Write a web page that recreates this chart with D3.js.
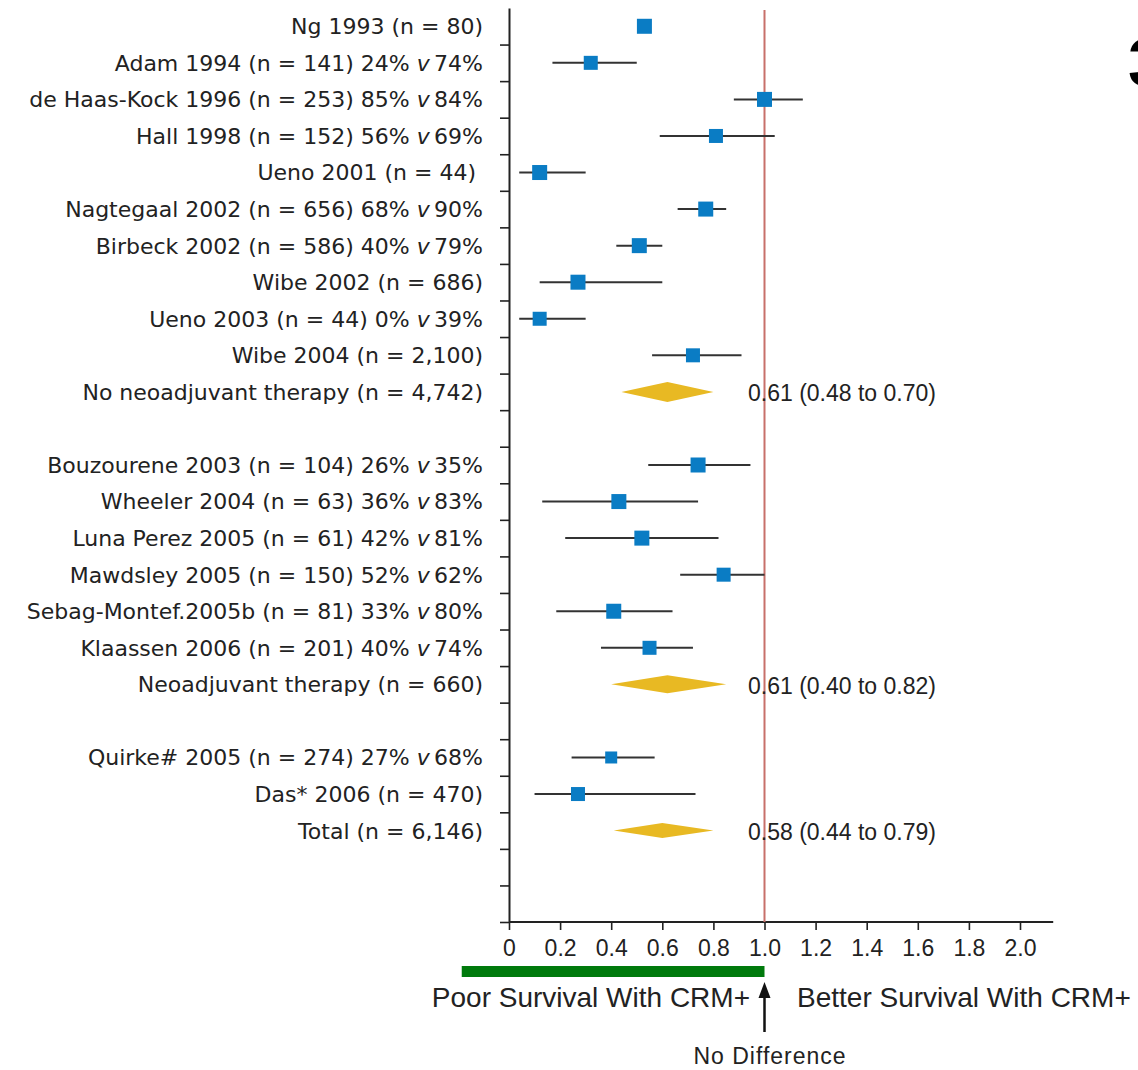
<!DOCTYPE html>
<html>
<head>
<meta charset="utf-8">
<script src="https://cdn.jsdelivr.net/npm/d3@7"></script>
<style>
  body { margin: 0; background: #fff; }
  svg { display: block; }
</style>
</head>
<body>
<div id="chart"></div>
<script>
// Row labels (blank rows keep the gaps between groups)
const rowLabels = [
  ["Ng 1993 (n = 80)", null],
  ["Adam 1994 (n = 141) 24% ", "74%"],
  ["de Haas-Kock 1996 (n = 253) 85% ", "84%"],
  ["Hall 1998 (n = 152) 56% ", "69%"],
  ["Ueno 2001 (n = 44)\u00a0", null],
  ["Nagtegaal 2002 (n = 656) 68% ", "90%"],
  ["Birbeck 2002 (n = 586) 40% ", "79%"],
  ["Wibe 2002 (n = 686)", null],
  ["Ueno 2003 (n = 44) 0% ", "39%"],
  ["Wibe 2004 (n = 2,100)", null],
  ["No neoadjuvant therapy (n = 4,742)", null],
  ["", null],
  ["Bouzourene 2003 (n = 104) 26% ", "35%"],
  ["Wheeler 2004 (n = 63) 36% ", "83%"],
  ["Luna Perez 2005 (n = 61) 42% ", "81%"],
  ["Mawdsley 2005 (n = 150) 52% ", "62%"],
  ["Sebag-Montef.2005b (n = 81) 33% ", "80%"],
  ["Klaassen 2006 (n = 201) 40% ", "74%"],
  ["Neoadjuvant therapy (n = 660)", null],
  ["", null],
  ["Quirke# 2005 (n = 274) 27% ", "68%"],
  ["Das* 2006 (n = 470)", null],
  ["Total (n = 6,146)", null],
  ["", null],
  ["", null]
];

// Individual studies: row, estimate, lower and upper CI, marker size
const studyRow  = [0, 1, 2, 3, 4, 5, 6, 7, 8, 9, 12, 13, 14, 15, 16, 17, 20, 21];
const studyEst  = [0.53, 0.32, 1.00, 0.81, 0.12, 0.77, 0.51, 0.27, 0.12, 0.72, 0.74, 0.43, 0.52, 0.84, 0.41, 0.55, 0.40, 0.27];
const studyLow  = [null, 0.17, 0.88, 0.59, 0.04, 0.66, 0.42, 0.12, 0.04, 0.56, 0.545, 0.13, 0.22, 0.67, 0.185, 0.36, 0.245, 0.10];
const studyHigh = [null, 0.50, 1.15, 1.04, 0.30, 0.85, 0.60, 0.60, 0.30, 0.91, 0.945, 0.74, 0.82, 1.00, 0.64, 0.72, 0.57, 0.73];
const studySize = [15, 14, 15, 14, 15, 15, 15, 15, 14, 14, 15, 15, 15, 14, 15, 14, 12, 14];

// Pooled estimates (diamonds)
const pooledRow  = [10, 18, 22];
const pooledEst  = [0.62, 0.62, 0.60];
const pooledLow  = [0.44, 0.40, 0.41];
const pooledHigh = [0.80, 0.85, 0.80];
const pooledText = ["0.61 (0.48 to 0.70)", "0.61 (0.40 to 0.82)", "0.58 (0.44 to 0.79)"];
const pooledH    = [20, 18, 15];

const xTicks = [0, 0.2, 0.4, 0.6, 0.8, 1.0, 1.2, 1.4, 1.6, 1.8, 2.0];
const noEffect = 1.0;
const poorRange = [-0.185, 1.0];

const width = 1138, height = 1070;
const plotTop = 8, plotBottom = 922, plotLeft = 509;

const svg = d3.select("#chart")
  .append("svg")
  .attr("width", width)
  .attr("height", height);

const x = d3.scaleLinear()
  .domain([0, 2.0])
  .range([plotLeft, 1020]);

const y = d3.scaleBand()
  .domain(d3.range(rowLabels.length))
  .range([plotTop, plotBottom]);

const yEdge = d3.scaleLinear()
  .domain([0, rowLabels.length])
  .range([plotTop, plotBottom]);

const labelFont = "'DejaVu Sans', Verdana, sans-serif";
const plainFont = "'Liberation Sans', Arial, sans-serif";

// y axis with ticks between rows
const yAxis = svg.append("g")
  .attr("transform", `translate(${plotLeft},0)`)
  .call(d3.axisLeft(yEdge)
    .tickValues(d3.range(1, rowLabels.length + 1))
    .tickSize(9)
    .tickSizeOuter(0)
    .tickFormat(""));
yAxis.select(".domain").attr("stroke", "#222").attr("stroke-width", 2);
yAxis.selectAll(".tick line").attr("stroke", "#222").attr("stroke-width", 1.6);

// x axis
const xAxis = svg.append("g")
  .attr("transform", `translate(0,${plotBottom})`)
  .call(d3.axisBottom(x)
    .tickValues(xTicks)
    .tickSize(8)
    .tickSizeOuter(0)
    .tickPadding(10)
    .tickFormat(d => d === 0 ? "0" : d3.format(".1f")(d)));
xAxis.select(".domain")
  .attr("d", `M${plotLeft},0H${x(2.13)}`)
  .attr("stroke", "#222").attr("stroke-width", 2);
xAxis.selectAll(".tick line").attr("stroke", "#222").attr("stroke-width", 1.6);
xAxis.selectAll(".tick text")
  .style("font-family", plainFont)
  .style("font-size", "23px")
  .attr("fill", "#222");

// line of no effect
svg.append("line")
  .attr("x1", x(noEffect)).attr("x2", x(noEffect))
  .attr("y1", 10).attr("y2", plotBottom)
  .attr("stroke", "#c8706a")
  .attr("stroke-width", 2);

// row labels
const labels = svg.append("g")
  .selectAll("text")
  .data(rowLabels)
  .enter()
  .append("text")
  .attr("x", 483)
  .attr("y", (d, i) => y(i) + y.bandwidth() / 2)
  .attr("dy", "0.36em")
  .attr("text-anchor", "end")
  .style("font-family", labelFont)
  .style("font-size", "22px")
  .style("white-space", "pre")
  .attr("fill", "#222");
labels.append("tspan").text(d => d[0]);
labels.filter(d => d[1] !== null).append("tspan").attr("font-style", "italic").text("v");
labels.filter(d => d[1] !== null).append("tspan").text(d => "\u2009" + d[1]);

// confidence intervals
const studies = studyRow.map((r, i) => ({
  row: r, est: studyEst[i], lo: studyLow[i], hi: studyHigh[i], size: studySize[i]
}));

svg.append("g")
  .selectAll("line")
  .data(studies.filter(d => d.lo !== null))
  .enter()
  .append("line")
  .attr("x1", d => x(d.lo))
  .attr("x2", d => x(d.hi))
  .attr("y1", d => y(d.row) + y.bandwidth() / 2)
  .attr("y2", d => y(d.row) + y.bandwidth() / 2)
  .attr("stroke", "#333")
  .attr("stroke-width", 2);

// study markers
svg.append("g")
  .selectAll("rect")
  .data(studies)
  .enter()
  .append("rect")
  .attr("x", d => x(d.est) - d.size / 2)
  .attr("y", d => y(d.row) + y.bandwidth() / 2 - d.size / 2)
  .attr("width", d => d.size)
  .attr("height", d => d.size)
  .attr("fill", "#0a7cc4");

// pooled diamonds
const pooled = pooledRow.map((r, i) => ({
  row: r, est: pooledEst[i], lo: pooledLow[i], hi: pooledHigh[i], text: pooledText[i], h: pooledH[i]
}));

svg.append("g")
  .selectAll("path")
  .data(pooled)
  .enter()
  .append("path")
  .attr("d", d => {
    const cy = y(d.row) + y.bandwidth() / 2;
    return `M${x(d.lo)},${cy}L${x(d.est)},${cy - d.h / 2}L${x(d.hi)},${cy}L${x(d.est)},${cy + d.h / 2}Z`;
  })
  .attr("fill", "#e8b923");

svg.append("g")
  .selectAll("text")
  .data(pooled)
  .enter()
  .append("text")
  .attr("x", 748)
  .attr("y", d => y(d.row) + y.bandwidth() / 2 + 1)
  .attr("dy", "0.36em")
  .style("font-family", plainFont)
  .style("font-size", "23px")
  .attr("fill", "#222")
  .text(d => d.text);

// green bar under the axis
svg.append("rect")
  .attr("x", x(poorRange[0]))
  .attr("y", 966)
  .attr("width", x(poorRange[1]) - x(poorRange[0]))
  .attr("height", 11)
  .attr("fill", "#007a0c");

// captions
svg.append("text")
  .attr("x", 750)
  .attr("y", 1007)
  .attr("text-anchor", "end")
  .style("font-family", plainFont)
  .style("font-size", "28px")
  .attr("fill", "#222")
  .text("Poor Survival With CRM+");

svg.append("text")
  .attr("x", 797)
  .attr("y", 1007)
  .style("font-family", plainFont)
  .style("font-size", "28px")
  .attr("fill", "#222")
  .text("Better Survival With CRM+");

// arrow pointing to no difference
svg.append("line")
  .attr("x1", x(noEffect)).attr("x2", x(noEffect))
  .attr("y1", 1032).attr("y2", 994)
  .attr("stroke", "#111")
  .attr("stroke-width", 2.5);
svg.append("path")
  .attr("d", `M${x(noEffect)},982L${x(noEffect) - 6},998L${x(noEffect) + 6},998Z`)
  .attr("fill", "#111");

svg.append("text")
  .attr("x", 770)
  .attr("y", 1064)
  .attr("text-anchor", "middle")
  .style("font-family", plainFont)
  .style("font-size", "23px")
  .style("letter-spacing", "1px")
  .attr("fill", "#222")
  .text("No Difference");

// panel label cut off at the right edge
svg.append("text")
  .attr("x", 1128)
  .attr("y", 86)
  .style("font-family", plainFont)
  .style("font-size", "68px")
  .style("font-weight", "bold")
  .attr("fill", "#000")
  .text("3");
</script>
</body>
</html>
